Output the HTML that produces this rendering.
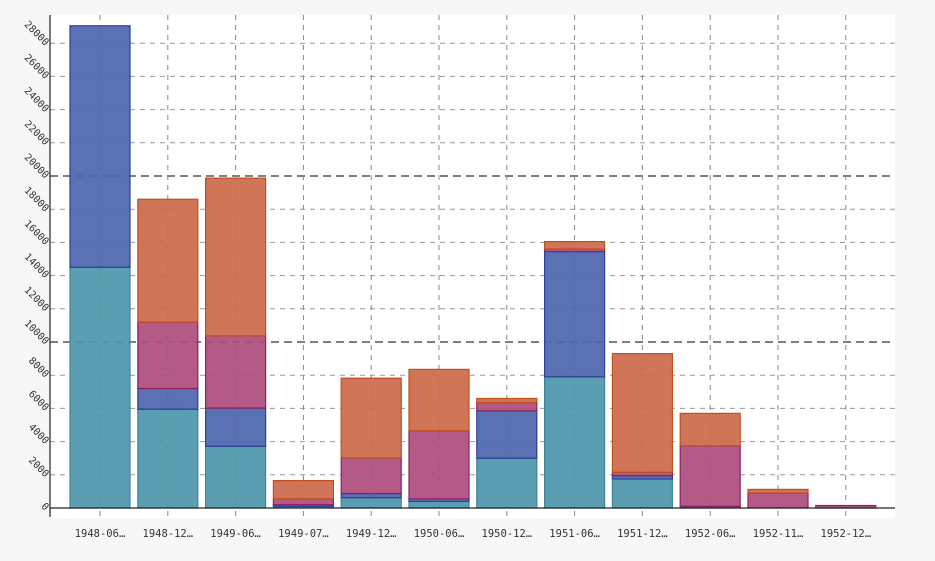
<!DOCTYPE html>
<html><head><meta charset="utf-8"><style>
html,body{margin:0;padding:0;background:#f7f7f7;}
svg{display:block;font-family:"DejaVu Sans Mono","Liberation Mono",monospace;}
</style></head><body>
<svg id="chart" width="935" height="561" viewBox="0 0 935 561">
<rect x="50" y="15" width="845" height="503" fill="#ffffff"/>
<g id="grid"></g><g id="bars"></g><g id="axes"></g>
</svg>
<script>
const categories=["1948-06…","1948-12…","1949-06…","1949-07…","1949-12…","1950-06…","1950-12…","1951-06…","1951-12…","1952-06…","1952-11…","1952-12…"];
const teal=[14500,5950,3720,100,620,400,3000,7900,1750,0,0,0];
const blue=[14550,1250,2300,100,250,150,2850,7550,200,100,0,0];
const magenta=[0,4000,4350,350,2150,4100,500,150,200,3650,900,150];
const orange=[0,7400,9500,1100,4800,3700,250,450,7150,1950,220,0];
const yTicks=[0,2000,4000,6000,8000,10000,12000,14000,16000,18000,20000,22000,24000,26000,28000];
const NS="http://www.w3.org/2000/svg";
const y0=508,k=0.0166;
function yScale(v){return y0-v*k;}
function xScale(i){return 100+i*67.8;}
function mk(tag,attrs,parent){const e=document.createElementNS(NS,tag);for(const a in attrs)e.setAttribute(a,attrs[a]);parent.appendChild(e);return e;}
const grid=document.getElementById('grid'),bars=document.getElementById('bars'),axes=document.getElementById('axes');
yTicks.forEach(v=>{
  if(v===0)return;
  const major=(v%10000===0);
  const l=mk('line',{x1:50,x2:895,y1:yScale(v),y2:yScale(v),stroke:major?'#555':'#999','stroke-width':major?1.5:1,'stroke-dasharray':major?'8,5':'5,5'},grid);
  
  
});
categories.forEach((c,i)=>{
  const l=mk('line',{x1:xScale(i),x2:xScale(i),y1:15,y2:508,stroke:'#888','stroke-width':1,'stroke-dasharray':'5,5'},grid);
  
  
});
const series=[[teal,'#4f97ab','#3d8599','teal'],[blue,'#4e66ad','#2c3f9a','blue'],[magenta,'#ad4e7e','#8e2060','magenta'],[orange,'#cc6a4a','#c0501e','orange']];
categories.forEach((c,i)=>{
  let base=0;
  series.forEach(s=>{
    const v=s[0][i];
    if(v>0){
      const r=mk('rect',{x:xScale(i)-30,width:60,y:yScale(base+v),height:v*k,fill:s[1],'fill-opacity':0.93,stroke:s[2],'stroke-width':1.2},bars);
      
      
    }
    base+=v;
  });
  const t=mk('text',{x:xScale(i),y:537,'text-anchor':'middle','font-size':10.5,fill:'#333'},axes);
  t.textContent=c;
  
  
  const tk=mk('line',{x1:xScale(i),x2:xScale(i),y1:511,y2:516,stroke:'#888'},axes);
  
  
});
yTicks.forEach(v=>{
  const y=yScale(v);
  const t=mk('text',{x:0,y:0,'text-anchor':'end','font-size':10,fill:'#333',transform:'translate(45,'+(y+3)+') rotate(45)'},axes);
  t.textContent=String(v);
  
  
});
const xa=mk('line',{x1:50,x2:895,y1:508,y2:508,stroke:'#222','stroke-width':1.2},axes);


const ya=mk('line',{x1:50,x2:50,y1:15,y2:517,stroke:'#222','stroke-width':1.2},axes);


</script>
</body></html>
